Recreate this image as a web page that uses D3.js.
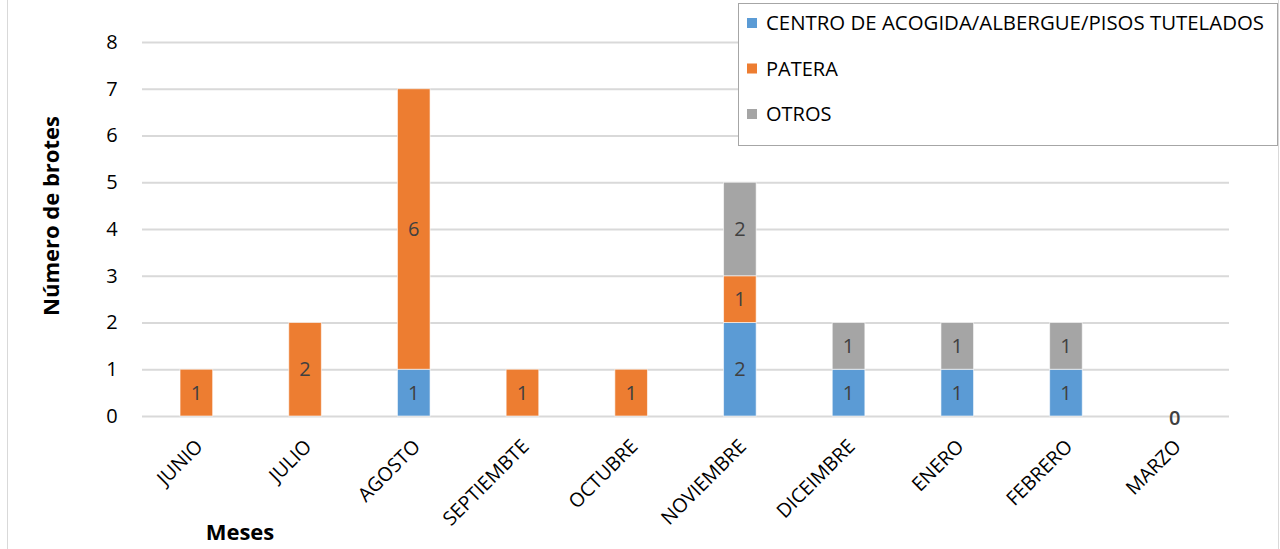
<!DOCTYPE html>
<html>
<head>
<meta charset="utf-8">
<script src="https://cdn.jsdelivr.net/npm/d3@7"></script>
<style>
  body { margin: 0; background: #fff; }
  text { font-family: "Open Sans", "Liberation Sans", sans-serif; }
</style>
</head>
<body>
<div id="chart"></div>
<script>
const months = ["JUNIO", "JULIO", "AGOSTO", "SEPTIEMBTE", "OCTUBRE", "NOVIEMBRE", "DICEIMBRE", "ENERO", "FEBRERO", "MARZO"];
const centro = [0, 0, 1, 0, 0, 2, 1, 1, 1, 0];
const patera = [1, 2, 6, 1, 1, 1, 0, 0, 0, 0];
const otros = [0, 0, 0, 0, 0, 2, 1, 1, 1, 0];
const seriesNames = ["CENTRO DE ACOGIDA/ALBERGUE/PISOS TUTELADOS", "PATERA", "OTROS"];
const colors = ["#5B9BD5", "#ED7D31", "#A5A5A5"];
const yTicks = [0, 1, 2, 3, 4, 5, 6, 7, 8];

const width = 1280, height = 549;
const plotLeft = 142, plotRight = 1229, plotTop = 42, plotBottom = 416;

const rows = months.map((m, i) => ({ month: m, c0: centro[i], c1: patera[i], c2: otros[i] }));
const stacked = d3.stack().keys(["c0", "c1", "c2"])(rows);

const svg = d3.select("#chart").append("svg")
  .attr("width", width).attr("height", height);

// outer chart border (partly cropped)
svg.append("line").attr("x1", 7.5).attr("x2", 7.5).attr("y1", 0).attr("y2", height)
  .attr("stroke", "#d9d9d9");
svg.append("line").attr("x1", 1278.5).attr("x2", 1278.5).attr("y1", 0).attr("y2", height)
  .attr("stroke", "#d9d9d9");

const x = d3.scaleBand().domain(months).range([plotLeft, plotRight]).paddingInner(0.7).paddingOuter(0.35);
const y = d3.scaleLinear().domain([0, 8]).range([plotBottom, plotTop]);

// gridlines
svg.append("g").selectAll("line").data(yTicks).join("line")
  .attr("x1", plotLeft).attr("x2", plotRight)
  .attr("y1", d => y(d) + 0.5).attr("y2", d => y(d) + 0.5)
  .attr("stroke", "#d9d9d9").attr("stroke-width", 2);

// y axis labels
const yAxis = svg.append("g").attr("transform", `translate(${plotLeft - 20},0)`)
  .call(d3.axisLeft(y).tickValues(yTicks).tickSize(0).tickPadding(0));
yAxis.select(".domain").remove();
yAxis.selectAll("text")
  .attr("font-size", 20).attr("fill", "#000")
  .attr("text-anchor", "middle").attr("dx", -10)
  .style("font-family", "'Open Sans', sans-serif");

// bars
const layer = svg.append("g").selectAll("g").data(stacked).join("g")
  .attr("fill", (d, i) => colors[i]);
layer.selectAll("rect").data(d => d.filter(s => s[1] - s[0] > 0)).join("rect")
  .attr("x", d => x(d.data.month))
  .attr("width", x.bandwidth())
  .attr("y", d => y(d[1]))
  .attr("height", d => y(d[0]) - y(d[1]))
  .attr("stroke", "#ffffff").attr("stroke-opacity", 0.6).attr("stroke-width", 1);

// data labels
const labels = [];
stacked.forEach(s => s.forEach(d => {
  const v = d[1] - d[0];
  if (v > 0) labels.push({ month: d.data.month, v, yv: (d[0] + d[1]) / 2 });
}));
rows.forEach(r => {
  if (r.c0 + r.c1 + r.c2 === 0) labels.push({ month: r.month, v: 0, yv: 0, zero: true });
});
svg.append("g").selectAll("text").data(labels).join("text")
  .attr("x", d => x(d.month) + x.bandwidth() / 2)
  .attr("y", d => d.zero ? y(d.yv) + 2 : y(d.yv))
  .attr("dy", "0.36em")
  .attr("text-anchor", "middle")
  .attr("font-size", 20)
  .attr("font-weight", d => d.zero ? 600 : 400)
  .attr("fill", "#404040")
  .text(d => d.v);

// x axis labels rotated
svg.append("g").selectAll("text").data(months).join("text")
  .attr("transform", d => `translate(${x(d) + x.bandwidth() / 2 - 2},${plotBottom + 22}) rotate(-45)`)
  .attr("text-anchor", "end")
  .attr("dy", "0.7em")
  .attr("font-size", 19.5)
  .attr("fill", "#000")
  .text(d => d);

// axis titles
svg.append("text")
  .attr("transform", `translate(59,${(plotTop + plotBottom) / 2 - 13}) rotate(-90)`)
  .attr("text-anchor", "middle")
  .attr("font-size", 22).attr("font-weight", "bold").attr("fill", "#000")
  .text("Número de brotes");
svg.append("text")
  .attr("x", 240).attr("y", 540)
  .attr("text-anchor", "middle")
  .attr("font-size", 22).attr("font-weight", "bold").attr("fill", "#000")
  .text("Meses");

// legend
const lg = svg.append("g");
lg.append("rect").attr("x", 738.5).attr("y", 3.5).attr("width", 539).attr("height", 142)
  .attr("fill", "#fff").attr("stroke", "#a6a6a6").attr("stroke-width", 1);
const items = lg.selectAll("g").data(seriesNames).join("g")
  .attr("transform", (d, i) => `translate(747,${23 + i * 45.5})`);
items.append("rect").attr("x", 0).attr("y", -5).attr("width", 10).attr("height", 10)
  .attr("fill", (d, i) => colors[i]);
items.append("text").attr("x", 19).attr("dy", "0.36em")
  .attr("font-size", 20).attr("fill", "#000")
  .text(d => d)
  .each(function (d, i) {
    if (i === 0) {
      d3.select(this).attr("textLength", 498).attr("lengthAdjust", "spacingAndGlyphs");
    }
  });
</script>
</body>
</html>
